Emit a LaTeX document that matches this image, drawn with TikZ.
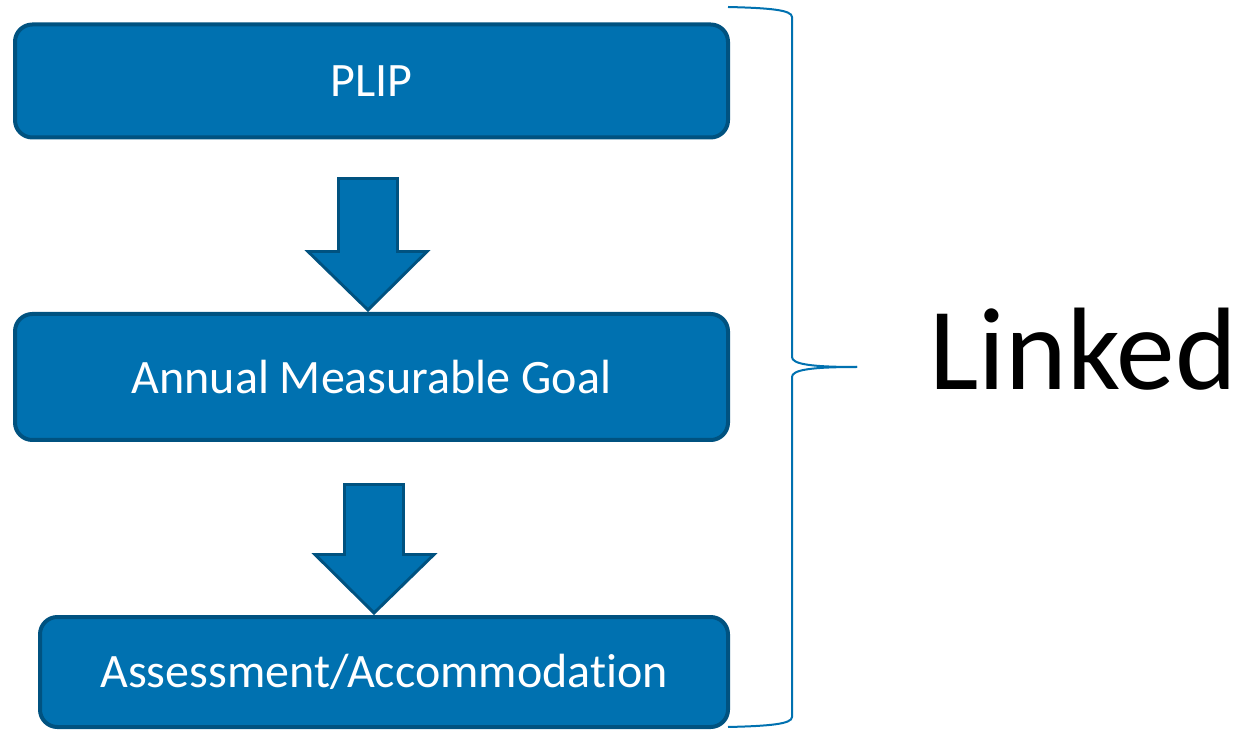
\documentclass[tikz,border=0pt]{standalone}
\usepackage{fontspec}
\setmainfont{Carlito}[Ligatures=NoCommon]
\definecolor{boxfill}{RGB}{0,113,176}
\definecolor{boxline}{RGB}{0,82,128}
\tikzset{
  stepbox/.style={draw=boxline, fill=boxfill, line width=3pt, rounded corners=13pt,
    text=white, font=\fontsize{36}{42}\selectfont, inner sep=0pt, outer sep=0pt},
  blockarrow/.style={draw=boxline, fill=boxfill, line width=2.2pt, line join=miter},
  bracestyle/.style={draw=boxfill, line width=1.5pt}
}
\begin{document}
\begin{tikzpicture}[x=0.75pt,y=-0.75pt]
\useasboundingbox (0,0) rectangle (1245,730);
\node[stepbox, minimum width=534.75pt, minimum height=84.75pt] (b1) at (371.5,81) {PLIP};
\node[stepbox, minimum width=534.75pt, minimum height=94.5pt] (b2) at (371.5,377) {Annual Measurable Goal};
\node[stepbox, minimum width=516pt, minimum height=82.5pt] (b3) at (384,672) {Assessment/Accommodation};
% block arrows
\draw[blockarrow] (338.5,178.5) -- (397.5,178.5) -- (397.5,251.5) -- (427,251.5) -- (368,310) -- (308,251.5) -- (338.5,251.5) -- cycle;
\draw[blockarrow] (344.5,484.5) -- (403.5,484.5) -- (403.5,554.5) -- (434,554.5) -- (374,613) -- (315,554.5) -- (344.5,554.5) -- cycle;
% brace
\coordinate (bt) at (728,7);
\coordinate (bm) at (857,367);
\coordinate (bb) at (728,727);
\draw[bracestyle] (bt) .. controls (770,8) and (792,10) .. (792,17) -- (792,357) .. controls (792,364) and (810,367) .. (bm);
\draw[bracestyle] (bm) .. controls (810,367) and (792,370) .. (792,377) -- (792,717) .. controls (792,724) and (770,726) .. (bb);
\node[font=\fontsize{88}{100}\selectfont, anchor=base west, inner sep=0pt] (lk) at (929,390) {Linked};
\end{tikzpicture}
\end{document}
